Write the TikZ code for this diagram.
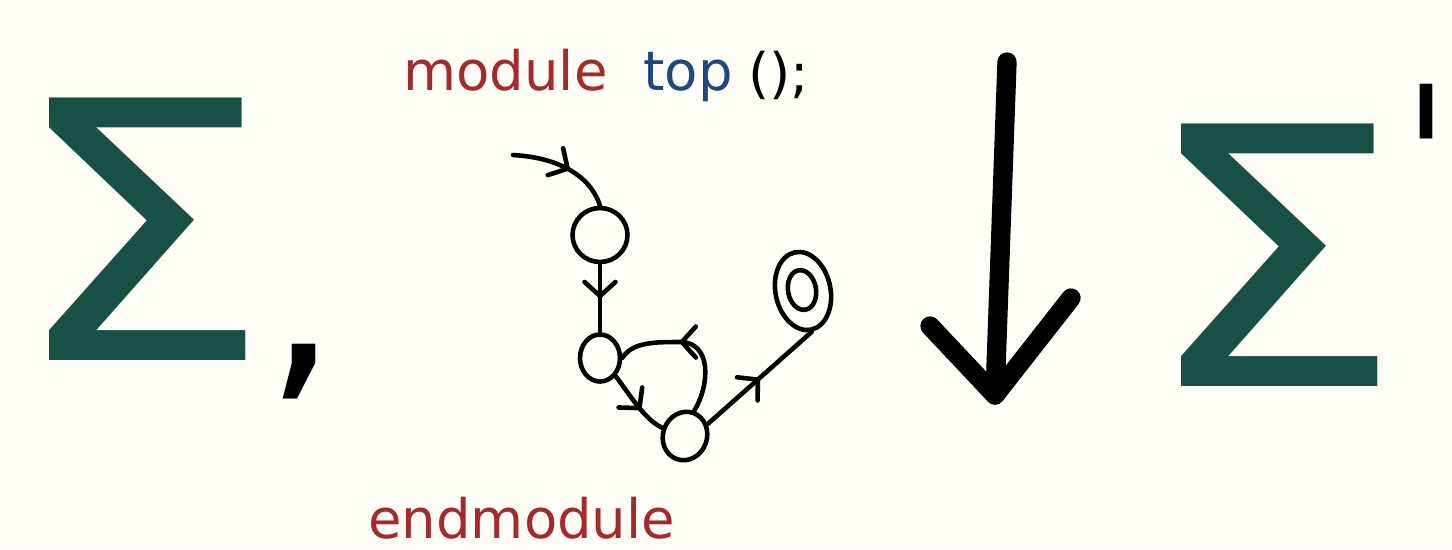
\documentclass[tikz,border=0pt]{standalone}
\usepackage{fontspec}
\usepackage{graphicx}
\newfontfamily\hand{DejaVu Sans}
\usetikzlibrary{arrows.meta,decorations.markings,shapes.geometric}
\definecolor{paper}{RGB}{255,254,246}
\definecolor{sigmagreen}{RGB}{24,80,70}
\definecolor{kwred}{RGB}{165,42,42}
\definecolor{idblue}{RGB}{31,72,128}
\newcommand{\primemark}{\kern0.3pt\raisebox{88pt}{\color{black}\fontsize{115pt}{115pt}\selectfont\scalebox{0.65}[1]{\textquotesingle}}}
\tikzset{
  sigmatext/.style={font=\hand\fontsize{205pt}{205pt}\selectfont, text=sigmagreen, inner sep=0pt, anchor=base, xscale=1.16},
  marktext/.style={font=\hand\fontsize{#1}{#1}\selectfont, text=black, inner sep=0pt},
  codetext/.style={font=\hand\fontsize{31pt}{31pt}\selectfont, inner sep=0pt, anchor=base west},
  state/.style={draw, ellipse, line width=2.6pt, inner sep=0pt},
  edge/.style={line width=2.6pt, line cap=round, decoration={markings,
      mark=at position #1 with {\arrow[line width=2.6pt]{Straight Barb[length=0.28cm,width=0.62cm,round]}}},
      postaction={decorate}},
  edge/.default=0.5
}
\begin{document}
\begin{tikzpicture}[x=0.02cm,y=-0.02cm]
\fill[paper] (0,0) rectangle (1452,549);
\useasboundingbox (0,0) rectangle (1452,549);

% alphabets on either side of the rewriting arrow
\node[sigmatext] (sigL) at (140,360) {Σ};
\node[marktext=130pt, anchor=base] (comma) at (302,372) {,};
\node[sigmatext, anchor=base west] (sigR) at (1140,386) {Σ\primemark};

% module header and footer
\node[codetext, text=kwred] (kwmod) at (403,90) {module};
\node[codetext, text=idblue] (topname) at (643,90) {top};
\node[codetext, text=black] (parens) at (748,92) {();};
\node[codetext, text=kwred] (kwend) at (368,538) {endmodule};

% automaton states
\node[state, minimum width=1.1cm, minimum height=1.08cm] (s1) at (600,235) {};
\node[state, minimum width=0.8cm, minimum height=0.94cm] (s2) at (600,358) {};
\node[state, minimum width=0.88cm, minimum height=0.98cm, rotate=-20] (s3) at (685,436) {};
\node[state, minimum width=1.1cm, minimum height=1.58cm, rotate=12] (fin) at (803,291) {};
\node[state, minimum width=0.56cm, minimum height=0.8cm, rotate=10] (finin) at (802,290) {};

% transitions
\coordinate (start) at (513,155);
\draw[edge=0.55] (start) .. controls (565,158) and (592,180) .. (s1.north);
\draw[edge=0.5] (s1.south) -- (s2.north);
\draw[edge=0.6] (s2.south east) .. controls (630,395) and (645,420) .. (s3.west);
\draw[edge=0.58] (s3.north) .. controls (710,385) and (712,342) .. (680,342)
      .. controls (655,342) and (632,342) .. (s2.east);
\draw[edge=0.5] (s3.north east) -- (fin.south);

% rewriting arrow
\coordinate (arrtop) at (1007,62);
\coordinate (arrtip) at (995,395);
\coordinate (barbL) at (930,326);
\coordinate (barbR) at (1071,298);
\draw[line width=11pt, line cap=round, line join=round] (arrtop) -- (arrtip);
\draw[line width=11pt, line cap=round, line join=round] (barbL) -- (arrtip) -- (barbR);
\end{tikzpicture}
\end{document}
